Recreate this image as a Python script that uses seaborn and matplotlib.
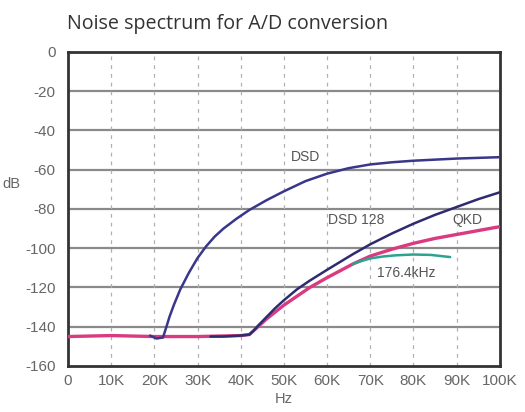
import matplotlib
matplotlib.use("Agg")
import matplotlib.pyplot as plt
import seaborn as sns

# noise spectrum curves (Hz, dB)
qkd_hz = [0, 10000, 20000, 30000, 40000, 42000, 43000, 44500, 46000, 48000, 50000,
          53000, 56000, 60000, 63000, 66000, 70000, 75000, 80000, 85000, 90000,
          95000, 100000]
qkd_db = [-145, -144.5, -145, -145, -144.5, -144, -142, -139, -136, -132.5, -129,
          -124.5, -120, -115, -111.5, -108, -104, -100.5, -97.5, -95, -93,
          -91, -89]

dsd128_hz = [33000, 36000, 40000, 42000, 43000, 44000, 46000, 48000, 50000, 53000,
             56000, 60000, 63000, 66000, 70000, 75000, 80000, 85000, 90000, 95000,
             100000]
dsd128_db = [-145, -145, -144.5, -144, -142, -139.5, -135, -130.5, -126.5, -121,
             -116.5, -111, -107, -103, -98, -92.5, -87.5, -83, -79, -75,
             -71.5]

dsd_hz = [19000, 20500, 22000, 22800, 23500, 24500, 26000, 28000, 30000, 32000,
          34000, 36000, 39000, 42000, 46000, 50000, 55000, 60000, 65000, 70000,
          75000, 80000, 90000, 100000]
dsd_db = [-144.5, -146, -145.5, -140, -135, -129, -121, -112.5, -105, -99,
          -94, -90, -85, -80.5, -75.5, -71, -65.8, -62, -59.2, -57.3,
          -56.2, -55.4, -54.3, -53.6]

k176_hz = [66000, 68000, 70000, 73000, 76000, 80000, 84000, 88500]
k176_db = [-108, -106.5, -105.2, -104.2, -103.6, -103.2, -103.4, -104.5]

x_ticks = [0, 10000, 20000, 30000, 40000, 50000, 60000, 70000, 80000, 90000, 100000]
x_labels = ["0", "10K", "20K", "30K", "40K", "50K", "60K", "70K", "80K", "90K", "100K"]
y_ticks = [0, -20, -40, -60, -80, -100, -120, -140, -160]

sns.set_style("white")
plt.rcParams['font.family'] = ['Liberation Sans', 'DejaVu Sans']
plt.rcParams['axes.unicode_minus'] = False

fig = plt.figure(figsize=(5.25, 4.12), dpi=100)
ax = fig.add_axes([0.1295, 0.1117, 0.8225, 0.7621])

# grid: solid horizontal, dashed vertical
for y in y_ticks[1:-1]:
    ax.axhline(y, color="#8a8a8a", lw=1.6, zorder=1)
for x in x_ticks[1:-1]:
    ax.axvline(x, color="#b0b0b0", lw=0.9, ls=(0, (3, 4)), zorder=1)

sns.lineplot(x=qkd_hz, y=qkd_db, ax=ax, color="#d93a80", lw=2.4, sort=False, estimator=None, zorder=3)
sns.lineplot(x=dsd128_hz, y=dsd128_db, ax=ax, color="#2e2b6e", lw=1.8, sort=False, estimator=None, zorder=4)
sns.lineplot(x=dsd_hz, y=dsd_db, ax=ax, color="#39378a", lw=1.8, sort=False, estimator=None, zorder=4)
sns.lineplot(x=k176_hz, y=k176_db, ax=ax, color="#2aa391", lw=1.8, sort=False, estimator=None, zorder=3)

lab = dict(fontsize=10, color="#555555", ha="center", va="center")
ax.text(55000, -53.5, "DSD", **lab)
ax.text(66800, -85.6, "DSD 128", **lab)
ax.text(92600, -85.6, "QKD", **lab)
ax.text(78400, -112.7, "176.4kHz", **lab)

ax.set_xlim(0, 100000)
ax.set_ylim(-160, 0)
ax.set_xticks(x_ticks)
ax.set_xticklabels(x_labels)
ax.set_yticks(y_ticks)
ax.tick_params(axis="both", length=0, labelsize=11, labelcolor="#666666")
ax.tick_params(axis="x", pad=6)
ax.tick_params(axis="y", pad=9)

for s in ax.spines.values():
    s.set_color("#333333")
    s.set_linewidth(2)
    s.set_visible(True)

ax.set_xlabel("Hz", fontsize=10.5, color="#666666", labelpad=3)
ax.set_ylabel("dB", fontsize=10.5, color="#666666", rotation=0)
ax.yaxis.set_label_coords(-0.13, 0.557)

fig.text(0.128, 0.942, "Noise spectrum for A/D conversion", fontsize=14.2, color="#333333",
         va="center", family="Open Sans")

fig.savefig("out.png", dpi=100, facecolor="white")
